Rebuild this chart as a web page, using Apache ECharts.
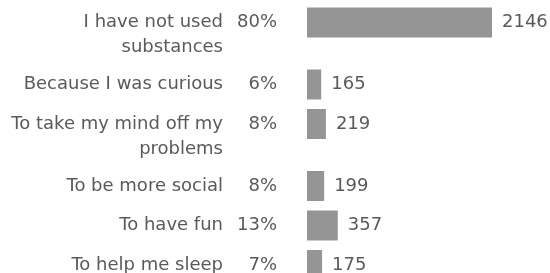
<!DOCTYPE html>
<html>
<head>
<meta charset="utf-8">
<script src="https://cdn.jsdelivr.net/npm/echarts@6/dist/echarts.min.js"></script>
<style>
  html, body { margin: 0; padding: 0; background: #fff; }
  #main { width: 550px; height: 273px; }
</style>
</head>
<body>
<div id="main"></div>
<script>
var categories = ['I have not used\nsubstances', 'Because I was curious', 'To take my mind off my\nproblems', 'To be more social', 'To have fun', 'To help me sleep'];
var percents = ['80%', '6%', '8%', '8%', '13%', '7%'];
var counts = [2146, 165, 219, 199, 357, 175];

var chartDom = document.getElementById('main');
var myChart = echarts.init(chartDom);

var textColor = '#5a5a5a';
var font = 'DejaVu Sans';
var fontSize = 18;
var lineH = 25;

var grids = [];
var xAxes = [];
var yAxes = [];
var series = [];

// rows with two-line labels take more room
var center = 22.5;
var maxCount = Math.max.apply(null, counts);

categories.forEach(function (cat, i) {
    var lines = cat.split('\n').length;
    grids.push({ left: 307, width: 185, top: center - 15, height: 30, outerBoundsMode: 'none' });
    xAxes.push({
        type: 'value', gridIndex: i, min: 0, max: maxCount, show: false
    });
    // category label
    yAxes.push({
        type: 'category', gridIndex: i, data: [cat], position: 'left', offset: 54,
        axisLine: { show: false }, axisTick: { show: false },
        axisLabel: {
            margin: 30, color: textColor, fontFamily: font, fontSize: fontSize,
            lineHeight: lineH, align: 'right', verticalAlign: 'middle',
            // keep first line centered on the bar
            formatter: function (v) { return v.indexOf('\n') >= 0 ? '\n' + v : v; }
        }
    });
    // percent label
    yAxes.push({
        type: 'category', gridIndex: i, data: [percents[i]], position: 'left', offset: 0,
        axisLine: { show: false }, axisTick: { show: false },
        axisLabel: {
            margin: 30, color: textColor, fontFamily: font, fontSize: fontSize, align: 'right'
        }
    });
    series.push({
        type: 'bar', xAxisIndex: i, yAxisIndex: 2 * i, data: [counts[i]],
        barWidth: 30, itemStyle: { color: '#959595' }, silent: true,
        label: {
            show: true, position: 'right', distance: 10, color: textColor,
            fontFamily: font, fontSize: fontSize
        }
    });
    center += lines > 1 ? 62 : 39.5;
});

var option = {
    animation: false,
    grid: grids,
    xAxis: xAxes,
    yAxis: yAxes,
    series: series
};
option && myChart.setOption(option);
</script>
</body>
</html>
